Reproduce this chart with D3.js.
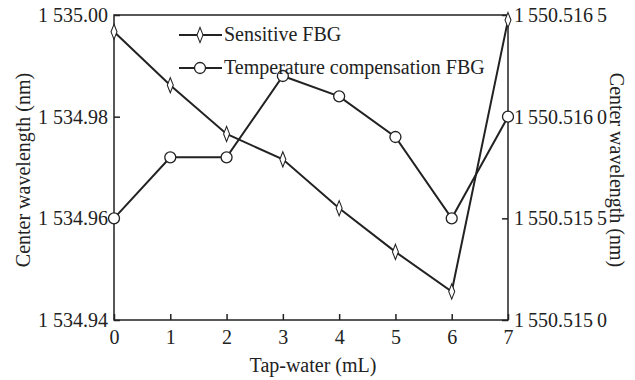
<!DOCTYPE html>
<html><head><meta charset="utf-8">
<script src="https://cdn.jsdelivr.net/npm/d3@7"></script>
<style>body{margin:0;background:#fff}svg{display:block}text{font-family:"Liberation Serif","Times New Roman",serif;fill:#222}</style>
</head><body><svg id="c" width="635" height="380"></svg>
<script>
const waterML = [0,1,2,3,4,5,6,7];
const sensitiveFBG = [1534.9967,1534.9862,1534.9766,1534.9716,1534.9620,1534.9534,1534.9456,1534.9990];
const compensationFBG = [1550.5155,1550.5158,1550.5158,1550.5162,1550.5161,1550.5159,1550.5155,1550.5160];
const leftTicks = [1534.94,1534.96,1534.98,1535.00];
const leftTickLabels = ["1 534.94","1 534.96","1 534.98","1 535.00"];
const rightTicks = [1550.5150,1550.5155,1550.5160,1550.5165];
const rightTickLabels = ["1\u2009550.515\u20090","1\u2009550.515\u20095","1\u2009550.516\u20090","1\u2009550.516\u20095"];
const seriesNames = ["Sensitive FBG","Temperature compensation FBG"];

const svg = d3.select("#c");
const L=114,R=508,T=15,B=320;
const x = d3.scaleLinear().domain([0,7]).range([L,R]);
const yL = d3.scaleLinear().domain([1534.94,1535.00]).range([B,T]);
const yR = d3.scaleLinear().domain([1550.5150,1550.5165]).range([B,T]);
const col="#222";

svg.append("rect").attr("x",L).attr("y",T).attr("width",R-L).attr("height",B-T)
  .attr("fill","none").attr("stroke",col).attr("stroke-width",1.5);

const xa = svg.append("g").attr("transform",`translate(0,${B})`)
  .call(d3.axisBottom(x).tickValues(waterML).tickSizeInner(-6).tickSizeOuter(0).tickPadding(10).tickFormat(d3.format("d")));
xa.select(".domain").remove();
xa.selectAll("line").attr("stroke",col).attr("stroke-width",1.5);
xa.selectAll("text").attr("font-size",20).attr("fill",col);

const ya = svg.append("g").attr("transform",`translate(${L},0)`)
  .call(d3.axisLeft(yL).tickValues(leftTicks).tickSizeInner(-6).tickSizeOuter(0).tickPadding(6).tickFormat((d,i)=>leftTickLabels[i]));
ya.select(".domain").remove();
ya.selectAll("line").attr("stroke",col).attr("stroke-width",1.5);
ya.selectAll("text").attr("font-size",20).attr("fill",col);

const yra = svg.append("g").attr("transform",`translate(${R},0)`)
  .call(d3.axisRight(yR).tickValues(rightTicks).tickSizeInner(-6).tickSizeOuter(0).tickPadding(6).tickFormat((d,i)=>rightTickLabels[i]));
yra.select(".domain").remove();
yra.selectAll("line").attr("stroke",col).attr("stroke-width",1.5);
yra.selectAll("text").attr("font-size",20).attr("fill",col);

svg.append("text").attr("transform","translate(30,170) rotate(-90)").attr("text-anchor","middle")
  .attr("font-size",20).text("Center wavelength (nm)");
svg.append("text").attr("transform","translate(610,170) rotate(90)").attr("text-anchor","middle")
  .attr("font-size",20).text("Center wavelength (nm)");
svg.append("text").attr("x",313).attr("y",372).attr("text-anchor","middle")
  .attr("font-size",20).text("Tap-water (mL)");

const diamond = d3.symbol().type(d3.symbolDiamond).size(55);
function drawSeries(vals, ys, shape){
  const line = d3.line().x((d,i)=>x(waterML[i])).y(d=>ys(d));
  svg.append("path").datum(vals).attr("d",line).attr("fill","none").attr("stroke",col).attr("stroke-width",2);
  const g = svg.append("g");
  vals.forEach((v,i)=>{
    if(shape==="d") g.append("path").attr("d",diamond).attr("transform",`translate(${x(waterML[i])},${ys(v)}) scale(0.75,1.1)`)
      .attr("fill","#fff").attr("stroke",col).attr("stroke-width",1.3);
    else g.append("circle").attr("cx",x(waterML[i])).attr("cy",ys(v)).attr("r",5.5)
      .attr("fill","#fff").attr("stroke",col).attr("stroke-width",1.3);
  });
}
drawSeries(sensitiveFBG,yL,"d");
drawSeries(compensationFBG,yR,"c");

const lg = svg.append("g");
[0,1].forEach(i=>{
  const yy = 35 + i*33;
  lg.append("line").attr("x1",179).attr("x2",222).attr("y1",yy).attr("y2",yy).attr("stroke",col).attr("stroke-width",2);
  if(i===0) lg.append("path").attr("d",diamond).attr("transform",`translate(200,${yy}) scale(0.75,1.1)`).attr("fill","#fff").attr("stroke",col).attr("stroke-width",1.3);
  else lg.append("circle").attr("cx",200).attr("cy",yy).attr("r",5.5).attr("fill","#fff").attr("stroke",col).attr("stroke-width",1.3);
  lg.append("text").attr("x",224).attr("y",yy+6).attr("font-size",20).text(seriesNames[i]);
});
</script></body></html>
